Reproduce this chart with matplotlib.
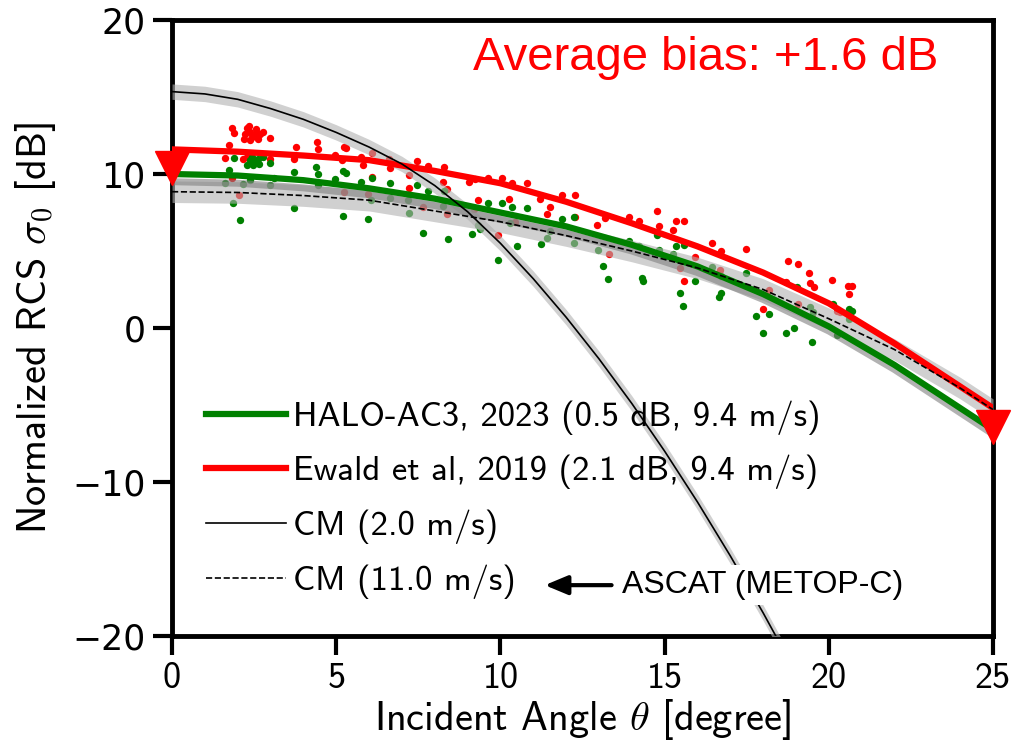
import matplotlib
matplotlib.use("Agg")
import matplotlib.pyplot as plt

plt.rcParams['font.family'] = ['cmss10', 'DejaVu Sans']
plt.rcParams['mathtext.fontset'] = 'cm'
plt.rcParams['axes.unicode_minus'] = True

# fitted model curves [dB] vs incidence angle [deg]
theta_fit = [0, 2, 4, 6, 8, 10, 12, 14, 16, 18, 20, 22, 24, 25]
halo_fit = [10.0, 9.9, 9.6, 9.07, 8.4, 7.5, 6.6, 5.4, 4.0, 2.2, 0.1, -2.4, -5.2, -6.6]
ewald_fit = [11.6, 11.45, 11.2, 10.9, 10.2, 9.4, 8.2, 6.8, 5.3, 3.6, 1.6, -1.0, -3.8, -5.2]
cm94_ref = [9.5, 9.4, 9.1, 8.65, 7.95, 7.05, 6.15, 5.0, 3.6, 1.85, -0.2, -2.7, -5.5, -6.9]
cm11 = [8.85, 8.8, 8.6, 8.3, 7.6, 6.9, 6.0, 5.0, 3.9, 2.5, 0.6, -1.4, -3.9, -5.3]

theta_cm2 = list(range(20))
cm2 = [15.35, 15.2, 14.85, 14.25, 13.55, 12.7, 11.75, 10.65, 9.25, 7.55,
       5.5, 3.2, 0.7, -2.0, -4.9, -8.0, -11.3, -14.8, -18.5, -22.4]
cm_spread = 0.5  # dB, shaded model spread

# ASCAT reference values
ascat_theta = [0, 25]
ascat_sigma = [10.4, -6.4]

# Ewald et al. 2019 observations
red_theta = [1.84, 1.90, 1.61, 1.74, 2.27, 2.38, 2.22, 2.48, 2.63, 2.78, 2.98, 2.38, 2.68,
             2.33, 2.55, 2.45, 2.58, 2.20, 2.17, 2.27, 2.98, 1.82, 2.05, 3.76, 3.72, 4.41,
             4.45, 4.96, 5.24, 5.30, 5.17, 5.75, 5.83, 6.08, 6.08, 5.24, 5.97, 6.61, 6.64,
             7.22, 7.22, 7.47, 7.78, 8.28, 8.26, 8.36, 7.65, 8.36, 9.05, 9.23, 9.63, 10.04,
             10.34, 10.80, 9.33, 10.27, 9.94, 11.20, 11.51, 11.87, 12.27, 11.41, 12.27,
             10.45, 9.20, 12.95, 13.19, 13.32, 13.93, 14.23, 14.76, 14.83, 15.25, 15.35,
             15.60, 15.47, 15.59, 15.91, 16.43, 16.71, 16.69, 16.67, 17.47, 18.18, 17.99,
             18.77, 19.05, 19.39, 19.43, 19.55, 19.05, 19.49, 20.11, 20.26, 20.34, 20.59,
             20.70, 20.62, 18.70]
red_sigma = [13.01, 12.68, 11.06, 11.86, 12.96, 12.75, 12.60, 12.54, 12.25, 12.75, 12.31,
             12.20, 12.60, 13.10, 12.90, 12.40, 12.65, 12.30, 11.00, 11.10, 10.97, 9.72,
             8.64, 11.73, 10.95, 12.05, 11.60, 11.23, 11.73, 11.66, 10.90, 11.12, 10.58,
             11.38, 9.82, 8.85, 8.70, 10.97, 10.36, 9.93, 9.11, 10.86, 10.51, 10.47, 9.50,
             9.00, 7.88, 7.40, 9.50, 9.65, 9.72, 9.72, 9.44, 9.39, 8.31, 8.35, 6.04, 8.40,
             7.88, 8.63, 8.63, 7.40, 7.23, 6.90, 7.70, 6.69, 7.12, 4.78, 7.23, 6.95, 7.62,
             6.62, 6.36, 6.97, 6.97, 3.88, 3.05, 4.63, 5.50, 5.02, 3.77, 3.60, 5.13, 2.47,
             1.22, 4.35, 4.15, 3.55, 2.94, 2.64, 1.56, 0.74, 3.10, 1.10, 1.06, 2.73, 2.73,
             2.19, 3.00]

# HALO-AC3 2023 observations
green_theta = [1.90, 1.73, 1.85, 2.07, 2.29, 2.38, 2.53, 2.63, 2.48, 2.66, 2.76, 2.43, 2.98,
               1.61, 2.17, 2.36, 3.72, 3.72, 2.98, 3.09, 4.37, 4.45, 4.43, 4.96, 5.22, 5.30,
               5.22, 5.75, 5.98, 6.08, 6.06, 6.64, 6.64, 7.22, 7.20, 7.47, 7.78, 7.63, 8.28,
               8.40, 8.26, 9.13, 9.38, 9.33, 9.63, 10.04, 10.34, 10.82, 10.51, 9.92, 10.29,
               11.23, 11.41, 11.51, 11.89, 12.25, 12.25, 12.96, 13.11, 13.29, 13.93, 14.23,
               14.30, 14.35, 14.76, 14.84, 15.25, 15.35, 15.60, 15.47, 15.57, 15.93, 16.43,
               16.71, 16.67, 16.71, 17.47, 17.78, 17.99, 18.18, 18.70, 18.95, 19.04, 19.43,
               19.53, 19.50, 20.14, 20.24, 20.62, 20.70, 20.62]
green_sigma = [11.06, 10.26, 8.10, 7.01, 10.58, 10.90, 10.80, 10.95, 10.58, 10.65, 11.08,
               11.08, 10.69, 9.43, 9.35, 9.61, 10.11, 7.77, 9.30, 9.72, 10.43, 9.98, 9.28,
               9.65, 10.20, 10.09, 7.27, 9.50, 7.05, 9.76, 8.31, 9.39, 8.42, 7.49, 8.31, 9.28,
               8.91, 6.18, 8.89, 5.78, 7.92, 6.13, 6.41, 6.70, 8.10, 8.10, 7.88, 7.82, 5.33,
               4.42, 6.79, 5.43, 5.82, 6.31, 7.05, 5.53, 7.23, 5.06, 4.02, 3.18, 5.68, 5.34,
               3.22, 3.07, 6.04, 5.06, 4.80, 5.34, 5.41, 2.29, 1.45, 3.05, 3.94, 3.38, 2.04,
               2.25, 3.55, 0.78, -0.35, 0.89, -0.35, -0.02, 2.64, 1.38, 1.02, -0.90, 1.56,
               -0.46, 1.21, 1.10, 0.56]

xticks = [0, 5, 10, 15, 20, 25]
yticks = [-20, -10, 0, 10, 20]

fig = plt.figure(figsize=(10.21, 7.44), dpi=100)
ax = fig.add_axes([0.1685, 0.1452, 0.8041, 0.8279])

ax.scatter(red_theta, red_sigma, s=28, color='red', linewidths=0, zorder=2)
ax.scatter(green_theta, green_sigma, s=28, color='green', linewidths=0, zorder=2)

# model spread bands
ax.fill_between(theta_cm2, [v - cm_spread for v in cm2], [v + cm_spread for v in cm2],
                color='#b1b1b1', alpha=0.6, linewidth=0, zorder=3)
ax.fill_between(theta_fit, [v - 0.7 for v in cm11], [v + 0.7 for v in cm11],
                color='#b1b1b1', alpha=0.6, linewidth=0, zorder=3)
ax.plot(theta_fit, cm94_ref, color='grey', lw=5, alpha=0.6, zorder=3)

ax.plot(theta_fit, halo_fit, color='green', lw=4.5, zorder=5,
        label='HALO-AC3, 2023 (0.5 dB, 9.4 m/s)')
ax.plot(theta_fit, ewald_fit, color='red', lw=4.5, zorder=5,
        label='Ewald et al, 2019 (2.1 dB, 9.4 m/s)')
ax.plot(theta_cm2, cm2, color='black', lw=1.2, zorder=6, label='CM (2.0 m/s)')
ax.plot(theta_fit, cm11, color='black', lw=1.2, ls='--', zorder=6, label='CM (11.0 m/s)')

ax.plot(ascat_theta, ascat_sigma, ls='none', marker='v', ms=24, color='red',
        clip_on=False, zorder=7)

ax.set_xlim(0, 25)
ax.set_ylim(-20, 20)
ax.set_xticks(xticks)
ax.set_yticks(yticks)
ax.set_yticklabels([f'\u2212{abs(v)}' if v < 0 else str(v) for v in yticks],
                   fontfamily='DejaVu Sans', fontsize=25)
ax.tick_params(axis='x', labelsize=26)
ax.tick_params(direction='out', length=14, width=3, pad=5)
for sp in ax.spines.values():
    sp.set_linewidth(3.5)

ax.set_xlabel(r'Incident Angle $\theta$ [degree]', fontsize=29, labelpad=1)
ax.set_ylabel(r'Normalized RCS $\sigma_0$ [dB]', fontsize=29, labelpad=10)

ax.legend(loc='lower left', bbox_to_anchor=(0.025, 0.038), frameon=False, fontsize=25,
          handlelength=2.3, handletextpad=0.2, labelspacing=0.58, borderaxespad=0)

ax.text(0.933, 0.938, 'Average bias: +1.6 dB', transform=ax.transAxes, ha='right',
        va='center', color='red', fontsize=34, fontfamily='Liberation Sans')

ax.annotate('ASCAT (METOP-C)', xy=(11.35, -16.7), xytext=(13.7, -16.7),
            va='center', ha='left', fontsize=23, fontfamily='Liberation Sans',
            bbox=dict(boxstyle='square,pad=0.15', fc='white', ec='none'),
            arrowprops=dict(arrowstyle='-|>,head_length=0.6,head_width=0.25',
                            color='black', lw=3, shrinkA=4, shrinkB=0),
            zorder=8)

fig.savefig('out.png', dpi=100)
